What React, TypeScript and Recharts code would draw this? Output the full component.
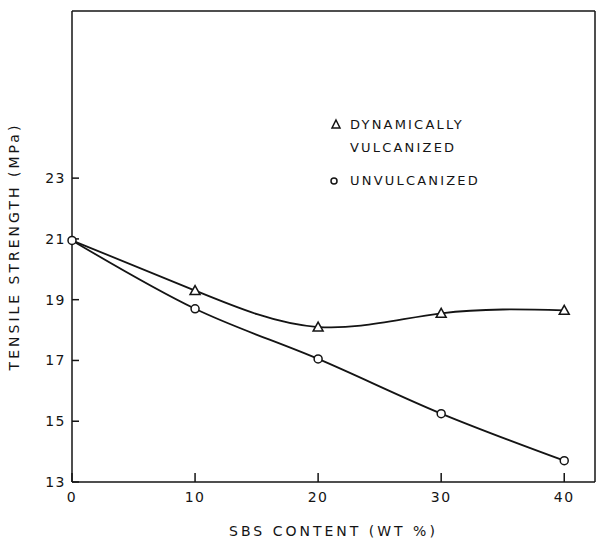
import { LineChart, Line, XAxis, YAxis, ReferenceLine } from "recharts";

const sbsContent = [0, 10, 20, 30, 40];
const dynamicallyVulcanized = [20.95, 19.3, 18.1, 18.55, 18.65];
const unvulcanized = [20.95, 18.7, 17.05, 15.25, 13.7];
const xTicks = [0, 10, 20, 30, 40];
const yTicks = [13, 15, 17, 19, 21, 23];
const xMax = 42.5;
const yMax = 28.5;

const data = sbsContent.map((x, i) => ({
  x,
  dyn: dynamicallyVulcanized[i],
  unv: unvulcanized[i]
}));

const INK = "#141414";
const FONT = "'DejaVu Sans', sans-serif";
const tickStyle = { fontFamily: FONT, fontSize: 14, letterSpacing: 1.5, fill: INK };

function CircleDot({ cx, cy, index }: any) {
  return <circle key={`c${index}`} cx={cx} cy={cy} r={4} fill="#fff" stroke={INK} strokeWidth={1.5} />;
}

function TriangleDot({ cx, cy, index }: any) {
  if (index === 0) return <g key={`t${index}`} />;
  const s = 5;
  return (
    <path
      key={`t${index}`}
      d={`M${cx},${cy - s} L${cx + s},${cy + s * 0.8} L${cx - s},${cy + s * 0.8} Z`}
      fill="#fff"
      stroke={INK}
      strokeWidth={1.5}
    />
  );
}

const legendText = { fontFamily: FONT, fontSize: 13, letterSpacing: 2.2, color: INK, lineHeight: "23px" };

export default function App() {
  return (
    <div style={{ position: "absolute", left: 0, top: 0, width: 597, height: 542, background: "#fff" }}>
      <LineChart width={597} height={542} data={data} margin={{ top: 11, right: 2, bottom: 0, left: 0 }}>
        <XAxis
          dataKey="x"
          type="number"
          domain={[0, xMax]}
          ticks={xTicks}
          tickSize={-9}
          tickMargin={19}
          tickLine={{ stroke: INK, strokeWidth: 1.5 }}
          tick={tickStyle}
          height={60}
          axisLine={{ stroke: INK, strokeWidth: 1.5 }}
          label={{
            value: "SBS  CONTENT  (WT %)",
            position: "insideBottom",
            offset: 6,
            style: { fontFamily: FONT, fontSize: 14, letterSpacing: 3, fill: INK }
          }}
        />
        <YAxis
          type="number"
          domain={[13, yMax]}
          ticks={yTicks}
          tickSize={-7}
          tickMargin={13}
          tickLine={{ stroke: INK, strokeWidth: 1.5 }}
          tick={tickStyle}
          width={72}
          axisLine={{ stroke: INK, strokeWidth: 1.5 }}
          label={{
            value: "TENSILE  STRENGTH  (MPa)",
            angle: -90,
            position: "insideLeft",
            offset: 14,
            style: { fontFamily: FONT, fontSize: 14, letterSpacing: 3, fill: INK, textAnchor: "middle" }
          }}
        />
        <ReferenceLine y={yMax} stroke={INK} strokeWidth={1.5} />
        <ReferenceLine x={xMax} stroke={INK} strokeWidth={1.5} />
        <Line
          dataKey="dyn"
          type="natural"
          stroke={INK}
          strokeWidth={1.8}
          dot={TriangleDot}
          isAnimationActive={false}
        />
        <Line
          dataKey="unv"
          type="monotone"
          stroke={INK}
          strokeWidth={1.8}
          dot={CircleDot}
          isAnimationActive={false}
        />
      </LineChart>

      <div style={{ position: "absolute", left: 328, top: 113 }}>
        <div style={{ display: "flex", alignItems: "flex-start" }}>
          <svg width={16} height={23}>
            <path d="M8,7 L12,15 L4,15 Z" fill="#fff" stroke={INK} strokeWidth={1.5} />
          </svg>
          <div style={{ ...legendText, marginLeft: 6 }}>
            DYNAMICALLY
            <br />
            VULCANIZED
          </div>
        </div>
        <div style={{ display: "flex", alignItems: "flex-start", marginTop: 10 }}>
          <svg width={16} height={23}>
            <circle cx={6} cy={12} r={3} fill="#fff" stroke={INK} strokeWidth={1.5} />
          </svg>
          <div style={{ ...legendText, marginLeft: 6 }}>UNVULCANIZED</div>
        </div>
      </div>
    </div>
  );
}
